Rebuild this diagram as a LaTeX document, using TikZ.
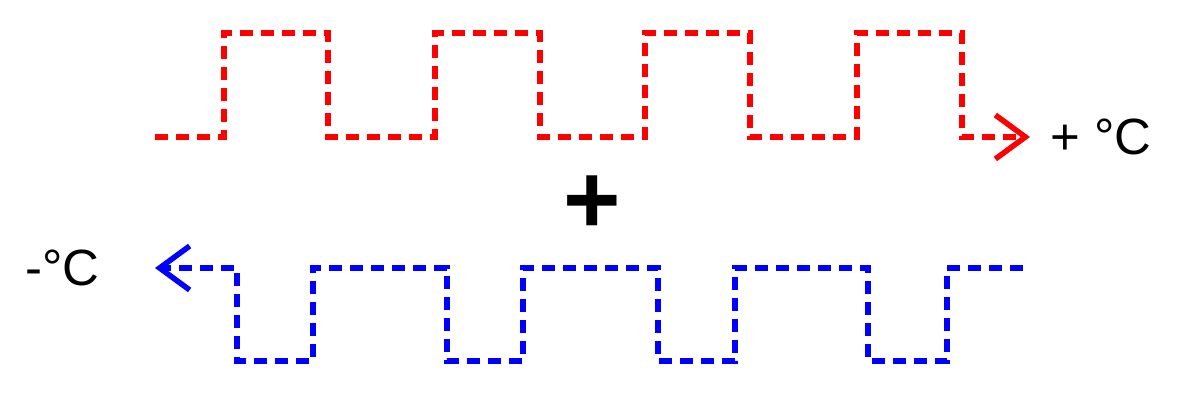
\documentclass[tikz,border=0pt]{standalone}
\usepackage{fontspec}
\setmainfont{Liberation Sans}
\usetikzlibrary{positioning,arrows.meta}

\begin{document}
\begin{tikzpicture}[
			x=0.02cm, y=-0.02cm,
			wave/.style={
					line width=0.11cm,
					dash pattern=on 0.26cm off 0.16cm,
					-{Straight Barb[length=0.6cm,width=0.88cm]}
				},
			temp/.style={
					inner sep=0pt,
					font=\fontsize{29}{32}\selectfont
				},
			node distance=0.4cm
		]

		\useasboundingbox (0,0) rectangle (1177,405);

		\coordinate (hotend) at (1030,137);
		\coordinate (coldend) at (155,268);

		% warm wave
		\draw[wave,red] (155,137) -- (224,137) -- (224,33) -- (328,33)
			-- (328,137) -- (435,137) -- (435,33) -- (540,33)
			-- (540,137) -- (645,137) -- (645,33) -- (750,33)
			-- (750,137) -- (857,137) -- (857,33) -- (962,33)
			-- (962,137) -- (hotend);

		% cold wave
		\draw[wave,blue] (1023,268) -- (947,268) -- (947,361) -- (868,361)
			-- (868,268) -- (735,268) -- (735,361) -- (658,361)
			-- (658,268) -- (523,268) -- (523,361) -- (447,361)
			-- (447,268) -- (313,268) -- (313,361) -- (237,361)
			-- (237,268) -- (coldend);

		\node (hot) [temp, right=of hotend] {+ °C};
		\node (cold) [temp, left=1.1cm of coldend] {-°C};

		\node (plus) [inner sep=0pt, font=\bfseries\fontsize{56}{60}\selectfont]
		at (592,205) {+};

	\end{tikzpicture}
\end{document}
